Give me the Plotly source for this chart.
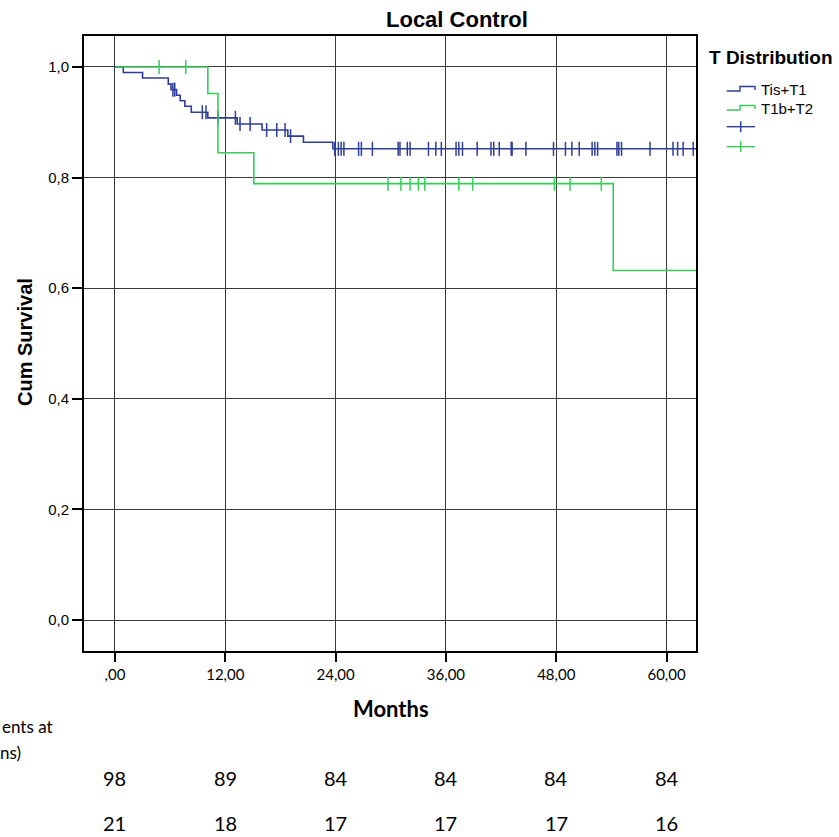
import numpy as np
import plotly.graph_objects as go

# ---------------- data ----------------
blue_name = "Tis+T1"
blue_times = [0, 0.9, 3.0, 5.8, 6.1, 6.7, 7.1, 7.6, 8.3, 10.1, 13.3, 16.0, 18.8, 20.5, 23.7, 63.3]
blue_surv = [1.0, 0.990, 0.980, 0.969, 0.959, 0.949, 0.939, 0.929, 0.918, 0.908, 0.897, 0.886, 0.875, 0.864, 0.852, 0.852]
blue_censor = [6.3, 6.5, 9.5, 9.9, 11.2, 13.1, 13.6, 14.7, 16.5, 17.6, 18.5, 19.1,
               23.9, 24.3, 24.6, 24.9, 26.5, 26.8, 28.0, 30.8, 31.0, 31.8, 32.1, 34.1, 34.9,
               35.5, 37.1, 37.4, 37.8, 39.4, 40.9, 41.2, 41.8, 43.1, 43.2, 44.7, 47.7,
               49.0, 49.7, 50.5, 51.9, 52.2, 52.5, 54.6, 54.8, 55.1, 58.2, 60.7, 61.2,
               61.8, 62.9]

green_name = "T1b+T2"
green_times = [0, 10.1, 11.2, 15.1, 54.2, 63.3]
green_surv = [1.0, 0.952, 0.845, 0.789, 0.632, 0.632]
green_censor = [4.8, 7.7, 29.7, 31.1, 32.1, 33.0, 33.7, 37.4, 38.9, 47.8, 49.5, 52.9]

x_ticks = [0, 12, 24, 36, 48, 60]
x_ticktext = [",00", "12,00", "24,00", "36,00", "48,00", "60,00"]
y_ticks = [0, 0.2, 0.4, 0.6, 0.8, 1.0]
y_ticktext = ["0,0", "0,2", "0,4", "0,6", "0,8", "1,0"]

risk_blue = [98, 89, 84, 84, 84, 84]
risk_green = [21, 18, 17, 17, 17, 16]

BLUE = "#2e3d98"
GREEN = "#37cc5c"

# ---------------- figure ----------------
W, H = 839, 837
L, R, T, B = 84, 696, 36, 651


def px(x):
    return (x - L) / (R - L)


def py(y):
    return (B - y) / (B - T)


def step_value(times, surv, t):
    idx = np.searchsorted(np.array(times), t, side="right") - 1
    return float(np.array(surv)[idx])


fig = go.Figure()
for times, surv, cens, col, name in [
    (blue_times, blue_surv, blue_censor, BLUE, blue_name),
    (green_times, green_surv, green_censor, GREEN, green_name),
]:
    fig.add_trace(go.Scatter(x=times, y=surv, mode="lines", line=dict(color=col, width=1.6, shape="hv"),
                             name=name, showlegend=False, hoverinfo="skip"))
    fig.add_trace(go.Scatter(x=cens, y=[step_value(times, surv, c) for c in cens], mode="markers",
                             marker=dict(symbol="line-ns-open", size=10, color=col,
                                         line=dict(color=col, width=1.5)),
                             showlegend=False, hoverinfo="skip"))

ARIAL = "Liberation Sans, Arial"
CAL = "Lato, Carlito, Calibri"

fig.update_layout(
    width=W, height=H,
    margin=dict(l=L, r=W - R, t=T, b=H - B),
    paper_bgcolor="white", plot_bgcolor="white",
    xaxis=dict(range=[-3.37, 63.2], tickvals=x_ticks, ticktext=x_ticktext,
               showgrid=True, gridcolor="#3a3a3a", gridwidth=1.3, zeroline=False,
               showline=True, linecolor="black", linewidth=2, mirror=True,
               ticks="outside", ticklen=9, tickwidth=2, tickcolor="black",
               tickfont=dict(family=CAL, size=15, color="black")),
    yaxis=dict(range=[-0.056, 1.056], tickvals=y_ticks, ticktext=y_ticktext,
               showgrid=True, gridcolor="#3a3a3a", gridwidth=1.3, zeroline=False,
               showline=True, linecolor="black", linewidth=2, mirror=True,
               ticks="outside", ticklen=10, tickwidth=2, tickcolor="black",
               tickfont=dict(family=ARIAL, size=15, color="black")),
)


def text(t, x, y, size, family, xanchor="center", xref="paper", angle=0):
    return dict(text=t, x=x, y=y, xref=xref, yref="paper", xanchor=xanchor, yanchor="middle",
                textangle=angle, showarrow=False, font=dict(family=family, size=size, color="black"))


ann = []
ann.append(text("<b>Local Control</b>", px(457), py(20), 22, ARIAL))
ann.append(text("<b>Cum Survival</b>", px(25), py(342), 20, ARIAL, angle=-90))
ann.append(text("<b>Months</b>", px(391), py(708), 22, CAL))
ann.append(text("ents at", px(0), py(726), 17, CAL, xanchor="left"))
ann.append(text("ns)", px(-2), py(752), 17, CAL, xanchor="left"))
for xv, rb, rg in zip(x_ticks, risk_blue, risk_green):
    ann.append(text(str(rb), xv, py(778), 20, CAL, xref="x"))
    ann.append(text(str(rg), xv, py(823), 20, CAL, xref="x"))

# legend (manual)
ann.append(text("<b>T Distribution</b>", px(707), py(57), 19, ARIAL, xanchor="left"))
shapes = []
for i, (col, name) in enumerate([(BLUE, blue_name), (GREEN, green_name)]):
    yb = 91 + 19 * i
    path = "M {} {} L {} {} L {} {} L {} {} L {} {}".format(
        px(726.7), py(yb), px(740), py(yb), px(740), py(yb - 4.5), px(755), py(yb - 4.5), px(755), py(yb - 1))
    shapes.append(dict(type="path", path=path, xref="paper", yref="paper", line=dict(color=col, width=1.4)))
    ann.append(text(name, px(759), py(yb - 2), 15, ARIAL, xanchor="left"))
    yc = 126.7 + 20 * i
    shapes.append(dict(type="line", x0=px(726.7), x1=px(755), y0=py(yc), y1=py(yc), xref="paper", yref="paper",
                       line=dict(color=col, width=1.4)))
    shapes.append(dict(type="line", x0=px(740.7), x1=px(740.7), y0=py(yc - 5.5), y1=py(yc + 5.5), xref="paper",
                       yref="paper", line=dict(color=col, width=1.5)))

fig.update_layout(annotations=ann, shapes=shapes)
fig.write_html("out.html", config={"displayModeBar": False},
               post_script="document.body.style.margin='0px';document.body.style.overflow='hidden';")
